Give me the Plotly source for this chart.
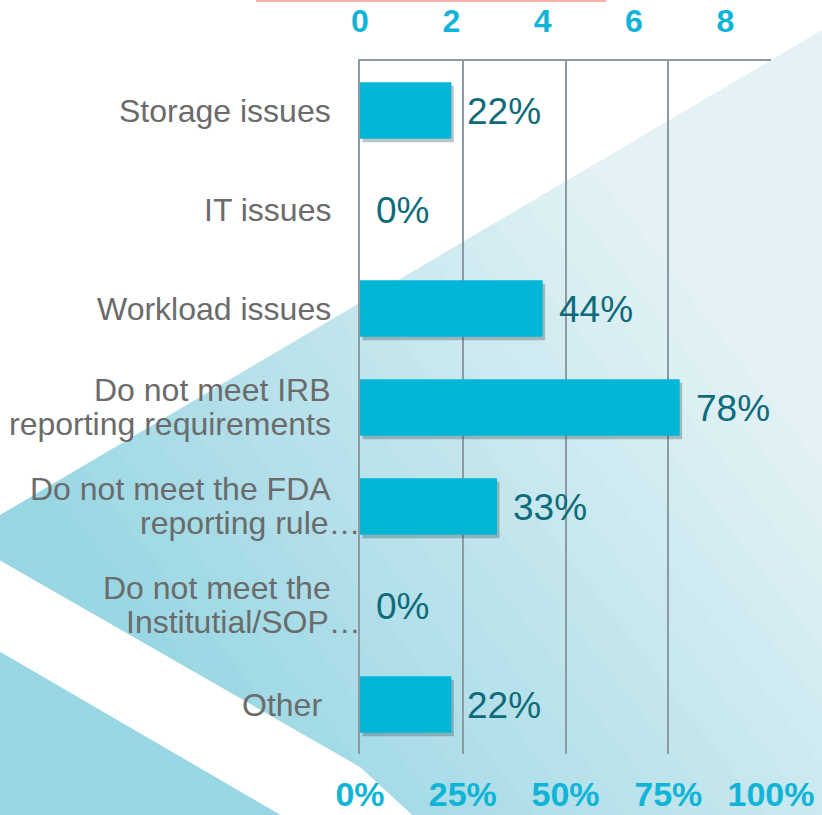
import plotly.graph_objects as go

# ---------------- data ----------------
categories = ["Storage issues", "IT issues", "Workload issues",
              "Do not meet IRB reporting requirements",
              "Do not meet the FDA reporting rule…",
              "Do not meet the Institutial/SOP…", "Other"]
label_lines = [["Storage issues"], ["IT issues"], ["Workload issues"],
               ["Do not meet IRB", "reporting requirements"],
               ["Do not meet the FDA", "reporting rule…"],
               ["Do not meet the", "Institutial/SOP…"],
               ["Other\u00a0"]]
counts = [2, 0, 4, 7, 3, 0, 2]
pct_labels = ["22%", "0%", "44%", "78%", "33%", "0%", "22%"]
total_respondents = 9
count_ticks = [0, 2, 4, 6, 8]
pct_ticks = [0, 0.25, 0.5, 0.75, 1.0]

# ---------------- style ----------------
FONT = "Arial, Liberation Sans, sans-serif"
BAR = "#00b6d6"
CYAN = "#10b4d6"
GRID = "#8b9ba3"
LABEL = "#6b6b6b"
VALUE = "#0f6b7b"

W, H = 822, 815
L, R, T, B = 360, 771, 61, 754


def pp(x, y):
    return (x - L) / (R - L), (B - y) / (B - T)


def poly(points, color, layer="below"):
    segs = []
    for i, (x, y) in enumerate(points):
        px, py = pp(x, y)
        segs.append(("M" if i == 0 else "L") + f"{px:.5f},{py:.5f}")
    return dict(type="path", xref="paper", yref="paper", layer=layer,
                path=" ".join(segs) + " Z", fillcolor=color,
                line=dict(width=0))


shapes = []
# background (decoration): base tint + gradient bands
c0 = (228, 242, 245)
c1 = (154, 215, 228)
shapes.append(poly([(-20, -20), (842, -20), (842, 835), (-20, 835)],
                   f"rgb{c0}"))
n_b = 18
for i in range(n_b):
    t = (i + 1) / n_b
    xb = 1150 - (1150 - 320) * t
    col = tuple(round(a + (b - a) * t) for a, b in zip(c0, c1))
    xt = xb - 855 / 1.3
    shapes.append(poly([(-2000, -20), (xt, -20), (xb, 835), (-2000, 835)],
                       f"rgb{col}"))
# white area above diagonal
shapes.append(poly([(-20, -20), (842, -20), (842, 515 - 0.59 * 842),
                    (-20, 515 + 0.59 * 20)], "white"))
# white stripe lower-left
shapes.append(poly([(-20, 549), (360, 767), (434, 835), (315, 835),
                    (-20, 640)], "white"))
# pink line at top
px0, py0 = pp(256, 1)
px1, _ = pp(606, 1)
shapes.append(dict(type="line", xref="paper", yref="paper", layer="above",
                   x0=px0, x1=px1, y0=py0, y1=py0,
                   line=dict(color="#f5b3ab", width=2)))

fig = go.Figure()

# shadow bars (percent axis)
fig.add_trace(go.Bar(
    y=categories, x=[c / total_respondents for c in counts], base=0.006,
    orientation="h", xaxis="x", yaxis="y", width=0.57, offset=-0.25,
    marker=dict(color="rgba(40,60,70,0.30)", line=dict(width=0)),
    hoverinfo="skip", showlegend=False))

# main bars (count axis)
fig.add_trace(go.Bar(
    y=categories, x=counts, orientation="h", xaxis="x2", yaxis="y",
    width=0.57, marker=dict(color=BAR, line=dict(width=0)),
    showlegend=False))

annotations = []
for cat, lines in zip(categories, label_lines):
    n = len(lines)
    for j, ln in enumerate(lines):
        if n == 1:
            ys = 0
        else:
            ys = 1 + (17 if j == 0 else -17)
        xs = 3 if ln.endswith("…") else -27
        annotations.append(dict(
            xref="x2", yref="y", x=0, y=cat, text=ln, showarrow=False,
            xanchor="right", yanchor="middle", xshift=xs, yshift=ys,
            font=dict(family=FONT, size=32, color=LABEL)))

for cat, c, lab in zip(categories, counts, pct_labels):
    annotations.append(dict(
        xref="x2", yref="y", x=c, y=cat, text=lab, showarrow=False,
        xanchor="left", yanchor="middle", xshift=14, yshift=-1,
        font=dict(family=FONT, size=37, color=VALUE)))

fig.update_layout(
    template="none",
    width=W, height=H, autosize=False,
    margin=dict(l=L, r=W - R, t=T, b=H - B, pad=0, autoexpand=False),
    paper_bgcolor="white", plot_bgcolor="rgba(0,0,0,0)",
    showlegend=False, barmode="overlay",
    shapes=shapes, annotations=annotations,
    font=dict(family=FONT),
    xaxis=dict(range=[0, 1], tickvals=pct_ticks, tickformat=".0%",
               side="bottom", anchor="y", showgrid=True, gridcolor=GRID,
               gridwidth=2, zeroline=False, showline=False, ticks="",
               automargin=False, ticklabelstandoff=17,
               tickfont=dict(family=FONT, size=34, color=CYAN,
                             weight="bold")),
    xaxis2=dict(range=[0, total_respondents], tickvals=count_ticks,
                side="top", overlaying="x", anchor="y", showgrid=False,
                zeroline=False, showline=True, linecolor=GRID, linewidth=2,
                ticks="", automargin=False, ticklabelstandoff=14,
                tickfont=dict(family=FONT, size=32, color=CYAN,
                              weight="bold")),
    yaxis=dict(type="category", categoryorder="array",
               categoryarray=categories, range=[6.5, -0.5],
               showticklabels=False, showgrid=False, zeroline=False,
               showline=True, linecolor=GRID, linewidth=2, ticks="",
               automargin=False),
)

fig.write_html(
    "out.html",
    config={"displayModeBar": False},
    post_script="document.body.style.margin='0px';"
                "document.body.style.overflow='hidden';")
